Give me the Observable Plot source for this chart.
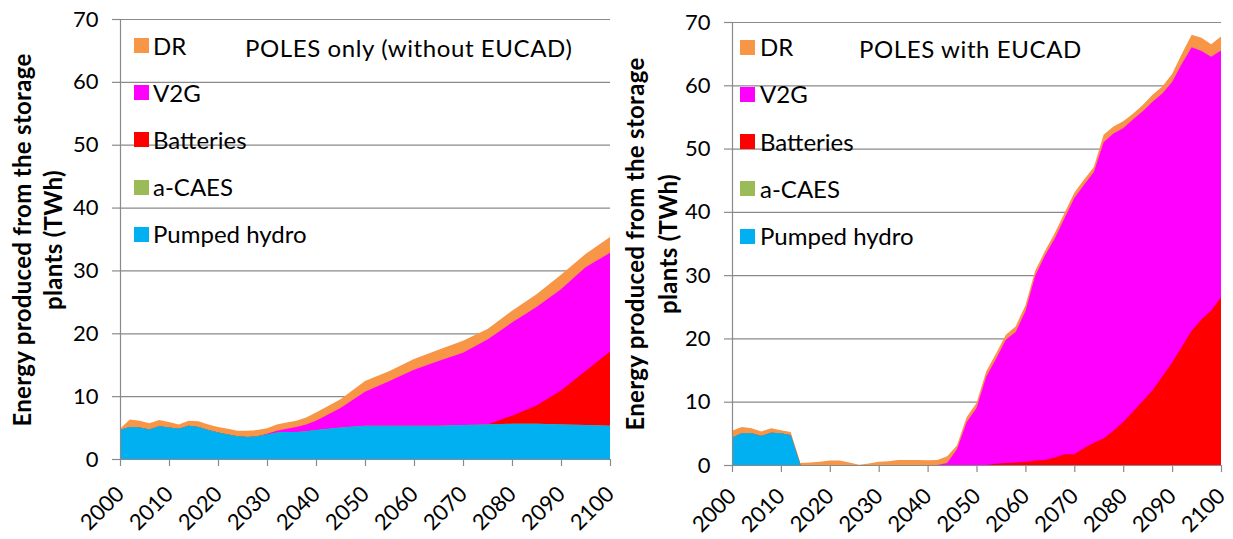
<!DOCTYPE html>
<html><head><meta charset="utf-8">
<script src="https://cdn.jsdelivr.net/npm/d3@7"></script>
<script src="https://cdn.jsdelivr.net/npm/@observablehq/plot@0.6"></script>
<style>
body{margin:0;background:#fff;}
#wrap{position:relative;width:1233px;height:539px;font-family:Lato,"Open Sans",sans-serif;color:#000;overflow:hidden;}
.panel{position:absolute;top:0;}
.ttl{position:absolute;font-size:24px;letter-spacing:0.6px;white-space:nowrap;line-height:1;}
.leg{position:absolute;font-size:24px;white-space:nowrap;line-height:1;}
.sw{position:absolute;width:15px;height:15px;}
.ylab{position:absolute;width:460px;height:30px;text-align:center;font-weight:bold;font-size:24px;letter-spacing:0.3px;line-height:30px;transform:translate(-50%,-50%) rotate(-90deg);white-space:nowrap;}
</style></head><body><div id="wrap"></div>
<script>
// ---- shared ----
const seriesNames = ["Pumped hydro", "a-CAES", "Batteries", "V2G", "DR"];
const seriesColors = ["#00B0F0", "#9BBB59", "#FF0000", "#FF00FF", "#F79646"];
const legendOrder = ["DR", "V2G", "Batteries", "a-CAES", "Pumped hydro"];
const yTicks = [0, 10, 20, 30, 40, 50, 60, 70];
const xTicks = [2000, 2010, 2020, 2030, 2040, 2050, 2060, 2070, 2080, 2090, 2100];
const yLabelLines = ["Energy produced from the storage", "plants (TWh)"];
const leftTitle = "POLES only (without EUCAD)";
const rightTitle = "POLES with EUCAD";

// ---- left panel: POLES only (without EUCAD) ----
const leftYears = [2000,2002,2004,2006,2008,2010,2012,2014,2016,2018,2020,2022,2024,2026,2028,2030,2032,2034,2036,2038,2040,
  2045,2050,2055,2060,2065,2070,2075,2080,2085,2090,2095,2100];
const leftHydro = [4.6,5.1,5.0,4.7,5.2,5.0,4.8,5.3,5.1,4.6,4.2,3.9,3.6,3.5,3.6,3.9,4.2,4.3,4.3,4.4,4.6,
  5.0,5.3,5.3,5.3,5.3,5.4,5.5,5.6,5.6,5.5,5.4,5.3];
const leftCaes = [0,0,0,0,0,0,0,0,0,0,0,0,0,0,0,0,0,0,0,0,0,
  0,0,0,0,0,0,0,0,0,0,0,0];
const leftBatteries = [0,0,0,0,0,0,0,0,0,0,0,0,0,0,0,0,0,0,0,0,0,
  0,0,0,0,0,0,0,1.3,2.9,5.4,8.6,11.8];
const leftV2G = [0,0,0,0,0,0,0,0,0,0,0,0,0,0,0,0.1,0.3,0.5,0.8,1.1,1.5,
  3.1,5.4,7.1,8.9,10.3,11.5,13.5,14.8,15.7,16.1,16.5,15.7];
const leftDR = [0.2,1.2,1.1,1.0,1.0,0.9,0.7,0.8,0.9,0.9,0.9,0.9,0.9,1.0,1.0,0.9,1.0,1.0,1.0,1.1,1.3,
  1.4,1.7,1.6,1.7,1.8,1.9,1.7,1.9,2.0,2.3,2.1,2.5];

// ---- right panel: POLES with EUCAD ----
const rightYears = [2000,2002,2004,2006,2008,2010,2012,2014,2016,2018,2020,2022,2024,2026,2028,2030,2032,2034,2036,2038,2040,
  2042,2044,2046,2048,2050,2052,2054,2056,2058,2060,2062,2064,2066,2068,2070,2072,2074,2076,2078,2080,
  2082,2084,2086,2088,2090,2092,2094,2096,2098,2100];
const rightHydro = [4.3,5.0,5.0,4.6,5.1,5.0,4.7,0,0,0,0,0,0,0,0,0,0,0,0,0,0,
  0,0,0,0,0,0,0,0,0,0,0,0,0,0,0,0,0,0,0,0,
  0,0,0,0,0,0,0,0,0,0];
const rightCaes = [0,0,0,0,0,0,0,0,0,0,0,0,0,0,0,0,0,0,0,0,0,
  0,0,0,0,0,0,0,0,0,0,0,0,0,0,0,0,0,0,0,0,
  0,0,0,0,0,0,0,0,0,0];
const rightBatteries = [0,0,0,0,0,0,0,0,0,0,0,0,0,0,0,0,0,0,0,0,0,
  0,0,0,0,0,0,0.2,0.3,0.4,0.5,0.7,0.8,1.2,1.7,1.7,2.7,3.5,4.2,5.4,6.8,
  8.4,10.1,11.8,14.0,16.2,18.7,21.2,23.0,24.4,26.5];
const rightV2G = [0,0,0,0,0,0,0,0,0,0,0,0,0,0,0,0,0,0,0,0,0,
  0,0.3,2.5,6.8,9.0,14.0,16.6,19.5,20.6,23.8,29.2,32.3,34.6,37.3,40.5,41.6,42.8,46.8,47.0,46.4,
  46.2,45.8,45.6,44.7,44.3,44.7,44.8,42.4,40.1,39.0];
const rightDR = [1.1,1.0,0.8,0.7,0.7,0.5,0.5,0.3,0.4,0.5,0.7,0.7,0.4,0.05,0.25,0.5,0.6,0.8,0.8,0.8,0.75,
  0.8,1.1,0.6,0.8,0.8,0.8,0.8,0.8,0.9,0.9,0.8,0.7,0.8,0.8,0.8,0.8,0.8,1.2,1.1,1.1,
  0.9,1.0,1.1,1.1,1.3,1.6,2.0,2.1,2.0,2.2];

const GRAY = "#8a8a8a";

function buildRows(years, values) {
  // cumulative tops per series, bottom-to-top in seriesNames order
  const rows = [];
  years.forEach((yr, i) => {
    let cum = 0;
    seriesNames.forEach((s, j) => {
      cum += values[j][i];
      rows.push({year: yr, series: s, top: cum});
    });
  });
  return rows;
}

function makePanel(years, values, m, width, pad) {
  const rows = buildRows(years, values);
  const areaMarks = [];
  for (let j = seriesNames.length - 1; j >= 0; j--) {
    const s = seriesNames[j];
    areaMarks.push(Plot.areaY(rows.filter(r => r.series === s), {
      x: "year", y1: 0, y2: "top", fill: seriesColors[j], curve: "linear"
    }));
  }
  return Plot.plot({
    width: width, height: 539,
    marginLeft: m.left, marginRight: m.right, marginTop: m.top, marginBottom: m.bottom,
    style: {fontFamily: "Lato, 'Open Sans', sans-serif", fontSize: "22px", color: "#000", background: "transparent", overflow: "visible"},
    x: {domain: [2000, 2100]},
    y: {domain: [0, 70]},
    marks: [
      Plot.gridY(yTicks, {stroke: GRAY, strokeOpacity: 1, strokeWidth: 1.2}),
      ...areaMarks,
      Plot.ruleY([0], {stroke: GRAY, strokeWidth: 1.2}),
      Plot.ruleX([2000], {stroke: GRAY, strokeWidth: 1.2}),
      Plot.axisX({ticks: xTicks, tickFormat: d => String(d), tickRotate: -45, tickSize: 7, tickPadding: pad,
        stroke: GRAY, strokeWidth: 1.2, fill: "#000", fontSize: 22, label: null}),
      Plot.axisY({ticks: yTicks, tickSize: 8, tickPadding: 14, stroke: GRAY, strokeWidth: 1.2,
        fill: "#000", fontSize: 22, label: null})
    ]
  });
}

const wrap = document.getElementById("wrap");

function addPanel(left, svg) {
  svg.classList.add("panel");
  svg.style.left = left + "px";
  wrap.appendChild(svg);
}

addPanel(0, makePanel(leftYears, [leftHydro, leftCaes, leftBatteries, leftV2G, leftDR],
  {left: 120, right: 10, top: 19, bottom: 80}, 620, 24));
addPanel(620, makePanel(rightYears, [rightHydro, rightCaes, rightBatteries, rightV2G, rightDR],
  {left: 112, right: 12, top: 22, bottom: 74}, 613, 20));

function addDiv(cls, text, css) {
  const d = document.createElement("div");
  d.className = cls;
  if (text != null) d.textContent = text;
  Object.assign(d.style, css);
  wrap.appendChild(d);
  return d;
}

// titles
addDiv("ttl", leftTitle, {left: "245px", top: "36px"});
addDiv("ttl", rightTitle, {left: "859px", top: "37px"});

// legends
function addLegend(swX, txtX, y0) {
  legendOrder.forEach((name, k) => {
    const cy = y0 + k * 47.2;
    const color = seriesColors[seriesNames.indexOf(name)];
    addDiv("sw", null, {left: swX + "px", top: (cy - 7.5) + "px", background: color});
    addDiv("leg", name, {left: txtX + "px", top: (cy - 12) + "px"});
  });
}
addLegend(134, 153, 45.5);
addLegend(740, 760, 47.2);

// y axis titles (one rotated div per line, centred on given x)
function addYLabel(xs, cy) {
  yLabelLines.forEach((line, k) => {
    addDiv("ylab", line, {left: xs[k] + "px", top: cy + "px"});
  });
}
addYLabel([22, 53], 240);
addYLabel([635, 668], 243.5);
</script>
</body></html>
